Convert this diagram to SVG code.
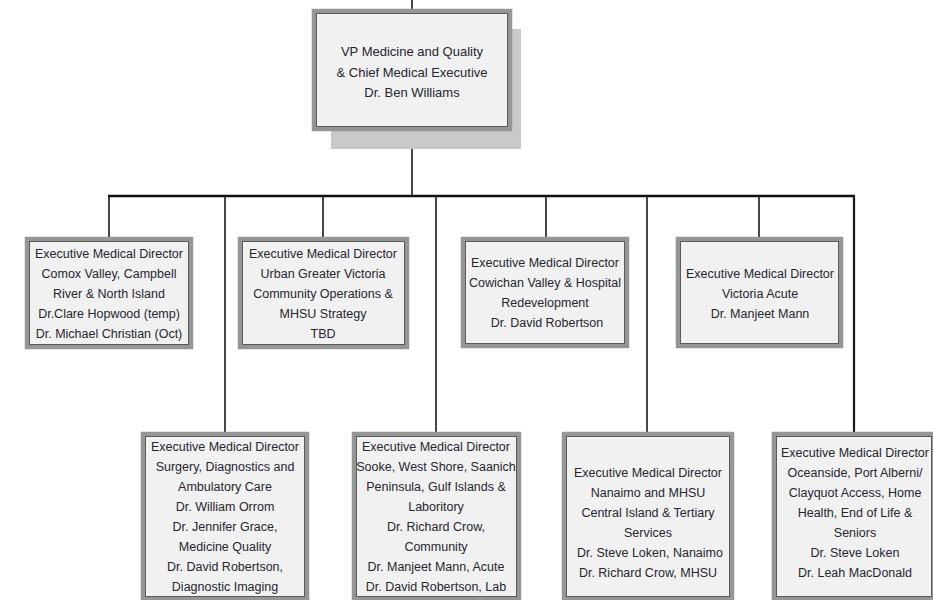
<svg xmlns="http://www.w3.org/2000/svg" width="933" height="600" viewBox="0 0 933 600">
<style>
.box{fill:#f1f1f1;stroke:#969696;stroke-width:4.5}
.inner{fill:none;stroke:#5a5a5a;stroke-width:1}
.t{font-family:"Liberation Sans",Arial,sans-serif;font-size:12.5px;fill:#262630;text-anchor:middle}
.tt{font-size:13px}
.ln{stroke:#1a1a1a;stroke-width:1.6;fill:none}
.bus{stroke:#111;stroke-width:2.4;fill:none}
</style>
<rect width="933" height="600" fill="#ffffff"/>
<g id="connectors">
<line class="ln" x1="412" y1="0" x2="412" y2="10"/>
<line class="ln" x1="412" y1="130" x2="412" y2="196"/>
<line class="bus" x1="108" y1="196" x2="855" y2="196"/>
<line class="ln" x1="109" y1="196" x2="109" y2="238"/>
<line class="ln" x1="323" y1="196" x2="323" y2="238"/>
<line class="ln" x1="546" y1="196" x2="546" y2="238"/>
<line class="ln" x1="759" y1="196" x2="759" y2="238"/>
<line class="ln" x1="225" y1="196" x2="225" y2="433"/>
<line class="ln" x1="436" y1="196" x2="436" y2="433"/>
<line class="ln" x1="647" y1="196" x2="647" y2="433"/>
<line class="ln" x1="854" y1="196" x2="854" y2="433" style="stroke-width:2.2"/>
</g>
<g id="vp">
<rect x="331" y="29" width="190" height="120" fill="#c9c9c9"/>
<rect class="box" x="314" y="11" width="196" height="118"/>
<rect class="inner" x="316.5" y="13.5" width="191" height="113"/>
<text class="t tt" x="412" y="56">VP Medicine and Quality</text>
<text class="t tt" x="412" y="77">&amp; Chief Medical Executive</text>
<text class="t tt" x="412" y="97">Dr. Ben Williams</text>
</g>
<g id="comox">
<rect class="box" x="27" y="239" width="164" height="108"/>
<rect class="inner" x="29.5" y="241.5" width="159" height="103"/>
<text class="t" x="109" y="258">Executive Medical Director</text>
<text class="t" x="109" y="278">Comox Valley, Campbell</text>
<text class="t" x="109" y="298">River &amp; North Island</text>
<text class="t" x="109" y="318">Dr.Clare Hopwood (temp)</text>
<text class="t" x="109" y="338">Dr. Michael Christian (Oct)</text>
</g>
<g id="urban">
<rect class="box" x="240" y="239" width="167" height="108"/>
<rect class="inner" x="242.5" y="241.5" width="162" height="103"/>
<text class="t" x="323" y="258">Executive Medical Director</text>
<text class="t" x="323" y="278">Urban Greater Victoria</text>
<text class="t" x="323" y="298">Community Operations &amp;</text>
<text class="t" x="323" y="318">MHSU Strategy</text>
<text class="t" x="323" y="338">TBD</text>
</g>
<g id="cowichan">
<rect class="box" x="463" y="239" width="164" height="107"/>
<rect class="inner" x="465.5" y="241.5" width="159" height="102"/>
<text class="t" x="545" y="267">Executive Medical Director</text>
<text class="t" x="545" y="287">Cowichan Valley &amp; Hospital</text>
<text class="t" x="545" y="307">Redevelopment</text>
<text class="t" x="547" y="327">Dr. David Robertson</text>
</g>
<g id="victoria">
<rect class="box" x="678" y="239" width="163" height="107"/>
<rect class="inner" x="680.5" y="241.5" width="158" height="102"/>
<text class="t" x="760" y="278">Executive Medical Director</text>
<text class="t" x="760" y="298">Victoria Acute</text>
<text class="t" x="760" y="318">Dr. Manjeet Mann</text>
</g>
<g id="surgery">
<rect class="box" x="143" y="434" width="164" height="165"/>
<rect class="inner" x="145.5" y="436.5" width="159" height="160"/>
<text class="t" x="225" y="451">Executive Medical Director</text>
<text class="t" x="225" y="471">Surgery, Diagnostics and</text>
<text class="t" x="225" y="491">Ambulatory Care</text>
<text class="t" x="225" y="511">Dr. William Orrom</text>
<text class="t" x="225" y="531">Dr. Jennifer Grace,</text>
<text class="t" x="225" y="551">Medicine Quality</text>
<text class="t" x="225" y="571">Dr. David Robertson,</text>
<text class="t" x="225" y="591">Diagnostic Imaging</text>
</g>
<g id="sooke">
<rect class="box" x="354" y="434" width="165" height="165"/>
<rect class="inner" x="356.5" y="436.5" width="160" height="160"/>
<text class="t" x="436" y="451">Executive Medical Director</text>
<text class="t" x="436" y="471">Sooke, West Shore, Saanich</text>
<text class="t" x="436" y="491">Peninsula, Gulf Islands &amp;</text>
<text class="t" x="436" y="511">Laboritory</text>
<text class="t" x="436" y="531">Dr. Richard Crow,</text>
<text class="t" x="436" y="551">Community</text>
<text class="t" x="436" y="571">Dr. Manjeet Mann, Acute</text>
<text class="t" x="436" y="591">Dr. David Robertson, Lab</text>
</g>
<g id="nanaimo">
<rect class="box" x="564" y="434" width="168" height="165"/>
<rect class="inner" x="566.5" y="436.5" width="163" height="160"/>
<text class="t" x="648" y="477">Executive Medical Director</text>
<text class="t" x="648" y="497">Nanaimo and MHSU</text>
<text class="t" x="648" y="517">Central Island &amp; Tertiary</text>
<text class="t" x="648" y="537">Services</text>
<text class="t" x="650" y="557">Dr. Steve Loken, Nanaimo</text>
<text class="t" x="648" y="577">Dr. Richard Crow, MHSU</text>
</g>
<g id="oceanside">
<rect class="box" x="774" y="434" width="160" height="165"/>
<rect class="inner" x="776.5" y="436.5" width="155" height="160"/>
<text class="t" x="855" y="457">Executive Medical Director</text>
<text class="t" x="855" y="477">Oceanside, Port Alberni/</text>
<text class="t" x="855" y="497">Clayquot Access, Home</text>
<text class="t" x="855" y="517">Health, End of Life &amp;</text>
<text class="t" x="855" y="537">Seniors</text>
<text class="t" x="855" y="557">Dr. Steve Loken</text>
<text class="t" x="855" y="577">Dr. Leah MacDonald</text>
</g>
</svg>
